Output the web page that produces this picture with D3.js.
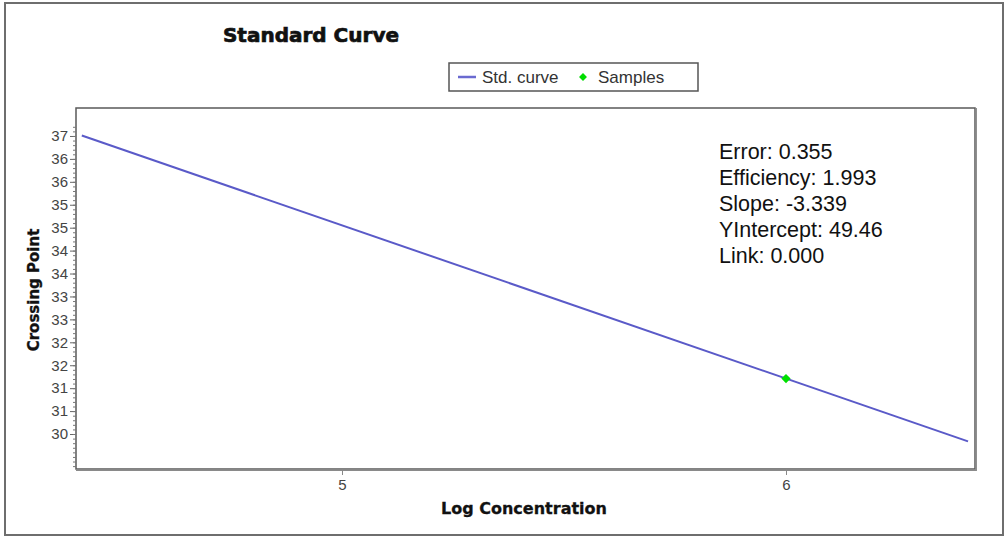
<!DOCTYPE html>
<html>
<head>
<meta charset="utf-8">
<script src="https://cdn.jsdelivr.net/npm/d3@7/dist/d3.min.js"></script>
<style>
  html, body { margin: 0; padding: 0; background: #fff; }
  svg { display: block; }
  text { font-family: "Liberation Sans", Arial, sans-serif; }
</style>
</head>
<body>
<svg id="chart" width="1008" height="537"></svg>
<script>
// Standard curve fit (log concentration vs crossing point)
const curveX = [4.414, 6.41];
const curveY = [37.01, 30.34];

// Measured samples
const sampleX = [6.0];
const sampleY = [31.71];

// Axis ticks and their printed labels
const xTickValues = [5, 6];
const xTickLabels = ["5", "6"];
const yTickValues = [37, 36.5, 36, 35.5, 35, 34.5, 34, 33.5, 33, 32.5, 32, 31.5, 31, 30.5];
const yTickLabels = ["37", "36", "36", "35", "35", "34", "34", "33", "33", "32", "32", "31", "31", "30"];
const yMinorTicks = d3.range(298, 373).map(v => v / 10);

// Fit statistics
const statLabels = ["Error", "Efficiency", "Slope", "YIntercept", "Link"];
const statValues = ["0.355", "1.993", "-3.339", "49.46", "0.000"];

const legendNames = ["Std. curve", "Samples"];

const svg = d3.select("#chart");

const plot = { left: 76, top: 108, right: 975, bottom: 469 };

const x = d3.scaleLinear().domain([4.4009, 6.4257]).range([plot.left, plot.right]);
const y = d3.scaleLinear().domain([29.737, 37.61]).range([plot.bottom, plot.top]);

// Outer frame
svg.append("rect")
  .attr("x", 5).attr("y", 3).attr("width", 998).attr("height", 532)
  .attr("fill", "#fff").attr("stroke", "#6e6e6e").attr("stroke-width", 2);

// Title
svg.append("text")
  .attr("x", 311).attr("y", 42)
  .attr("text-anchor", "middle")
  .style("font-family", "'DejaVu Sans', sans-serif")
  .style("font-weight", "bold")
  .style("font-size", "20px")
  .attr("fill", "#111").attr("stroke", "#111").attr("stroke-width", 0.7)
  .text("Standard Curve");

// Legend
const lg = svg.append("g");
lg.append("rect")
  .attr("x", 449).attr("y", 63).attr("width", 249).attr("height", 28)
  .attr("fill", "#fff").attr("stroke", "#555").attr("stroke-width", 1.5);
lg.append("line")
  .attr("x1", 458).attr("x2", 476).attr("y1", 77).attr("y2", 77)
  .attr("stroke", "#6a6ad0").attr("stroke-width", 2.5);
lg.append("text")
  .attr("x", 482).attr("y", 83)
  .style("font-size", "17px").attr("fill", "#333")
  .text(legendNames[0]);
lg.append("path")
  .attr("transform", "translate(583,77)")
  .attr("d", d3.symbol(d3.symbolDiamond2, 40)())
  .attr("fill", "#00dd00");
lg.append("text")
  .attr("x", 598).attr("y", 83)
  .style("font-size", "17px").attr("fill", "#333")
  .text(legendNames[1]);

// Plot background and frame
svg.append("rect")
  .attr("x", plot.left).attr("y", plot.top)
  .attr("width", plot.right - plot.left).attr("height", plot.bottom - plot.top)
  .attr("fill", "#fff").attr("stroke", "#5a5a5a").attr("stroke-width", 1.5);
svg.append("path")
  .attr("d", `M${plot.right + 1.2},${plot.top}V${plot.bottom + 1.2}H${plot.left}`)
  .attr("fill", "none").attr("stroke", "#8a8a8a").attr("stroke-width", 1.5);

// Y axis: major ticks with labels, minor ticks without
const yAxis = d3.axisLeft(y)
  .tickValues(yTickValues)
  .tickSize(6)
  .tickPadding(2)
  .tickFormat((d, i) => yTickLabels[i]);
const gy = svg.append("g").attr("transform", `translate(${plot.left},0)`).call(yAxis);
gy.select(".domain").remove();
gy.selectAll(".tick line").attr("stroke", "#666");
gy.selectAll(".tick text")
  .style("font-family", "'Liberation Sans', Arial, sans-serif")
  .style("font-size", "15px").attr("fill", "#444");

const gyMinor = svg.append("g").attr("transform", `translate(${plot.left},0)`)
  .call(d3.axisLeft(y).tickValues(yMinorTicks).tickSize(3).tickFormat(""));
gyMinor.select(".domain").remove();
gyMinor.selectAll(".tick line").attr("stroke", "#777");

// X axis
const xAxis = d3.axisBottom(x)
  .tickValues(xTickValues)
  .tickSize(6)
  .tickPadding(4)
  .tickFormat((d, i) => xTickLabels[i]);
const gx = svg.append("g").attr("transform", `translate(0,${plot.bottom})`).call(xAxis);
gx.select(".domain").remove();
gx.selectAll(".tick line").attr("stroke", "#888");
gx.selectAll(".tick text")
  .style("font-family", "'Liberation Sans', Arial, sans-serif")
  .style("font-size", "15px").attr("fill", "#444");

// Axis titles
svg.append("text")
  .attr("x", 524).attr("y", 514)
  .attr("text-anchor", "middle")
  .style("font-family", "'DejaVu Sans', sans-serif")
  .style("font-weight", "bold").style("font-size", "16px")
  .attr("fill", "#111").attr("stroke", "#111").attr("stroke-width", 0.3)
  .text("Log Concentration");

svg.append("text")
  .attr("transform", "translate(39,290) rotate(-90)")
  .attr("text-anchor", "middle")
  .style("font-family", "'DejaVu Sans', sans-serif")
  .style("font-weight", "bold").style("font-size", "15px")
  .attr("fill", "#111").attr("stroke", "#111").attr("stroke-width", 0.3)
  .text("Crossing Point");

// Standard curve line
const curve = curveX.map((v, i) => [v, curveY[i]]);
svg.append("path")
  .datum(curve)
  .attr("d", d3.line().x(d => x(d[0])).y(d => y(d[1])))
  .attr("fill", "none").attr("stroke", "#5a5ac8").attr("stroke-width", 2);

// Sample points
svg.selectAll(".sample")
  .data(sampleX.map((v, i) => [v, sampleY[i]]))
  .enter().append("path")
  .attr("class", "sample")
  .attr("transform", d => `translate(${x(d[0])},${y(d[1])})`)
  .attr("d", d3.symbol(d3.symbolDiamond2, 55)())
  .attr("fill", "#00e000");

// Fit statistics block
svg.append("g").selectAll("text")
  .data(statLabels)
  .enter().append("text")
  .attr("x", 719)
  .attr("y", (d, i) => 159 + i * 26)
  .style("font-size", "21.5px").attr("fill", "#111")
  .text((d, i) => `${d}: ${statValues[i]}`);
</script>
</body>
</html>
